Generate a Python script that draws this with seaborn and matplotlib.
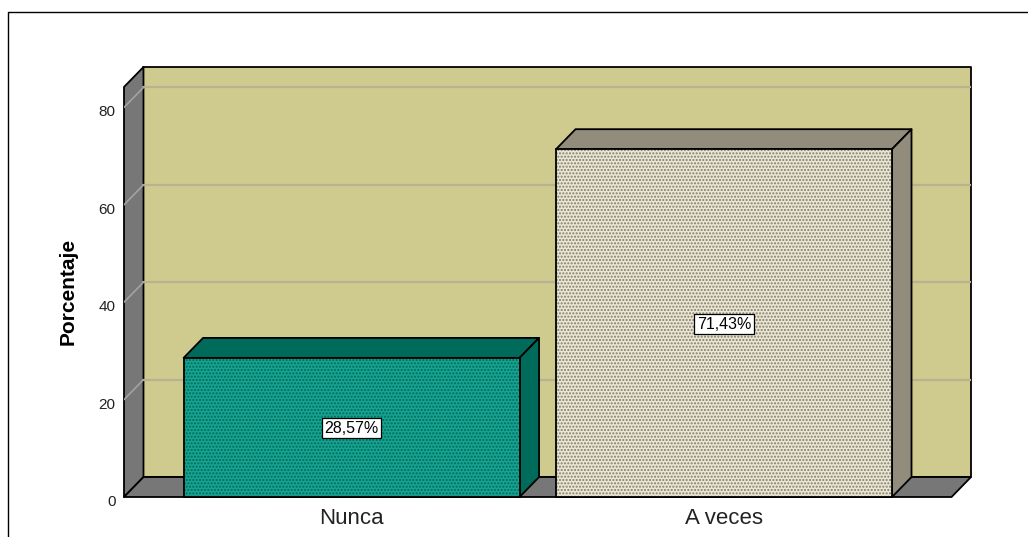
import matplotlib
matplotlib.use("Agg")
import matplotlib.pyplot as plt
from matplotlib.patches import Polygon, Rectangle
from matplotlib.lines import Line2D
from matplotlib.transforms import ScaledTranslation
import pandas as pd
import seaborn as sns

categorias = ["Nunca", "A veces"]
porcentajes = [28.57, 71.43]
etiquetas = ["28,57%", "71,43%"]
ticks_y = [0, 20, 40, 60, 80]

colores_frente = ["#00BAA2", "#EFE8CF"]
colores_punto = ["#006A58", "#7F7B6C"]
colores_lado = ["#006B5A", "#918C7C"]

PARED = "#CFCA8E"
GRIS = "#777777"
GRID = "#B7B391"
GRID_GRIS = "#A3A3A3"

# profundidad del efecto 3D, en unidades de datos
DX = 0.0523
DY = 4.1
Y_MAX = 84.2

sns.set_style("white")
plt.rcParams["font.family"] = ["Liberation Sans", "DejaVu Sans"]

fig = plt.figure(figsize=(10.28, 5.37), dpi=100)
ax = fig.add_axes([124 / 1028, 1 - 497 / 537, (971 - 124) / 1028, (497 - 67) / 537])

df = pd.DataFrame({"categoria": categorias, "porcentaje": porcentajes})
sns.barplot(data=df, x="categoria", y="porcentaje", hue="categoria",
            palette=colores_frente, width=0.902, legend=False, ax=ax, zorder=5)

x_izq, x_der = -0.611, 1.663
ax.set_xlim(x_izq, x_der)
ax.set_ylim(0, Y_MAX + DY)
for s in ax.spines.values():
    s.set_visible(False)
ax.set_facecolor("none")

# paredes del grafico
x_frente = x_der - DX
borde = dict(edgecolor="black", linewidth=1.3, joinstyle="round", clip_on=False)
ax.add_patch(Rectangle((x_izq + DX, DY), x_frente - x_izq, Y_MAX, facecolor=PARED, zorder=1, **borde))
ax.add_patch(Polygon([(x_izq, 0), (x_izq + DX, DY), (x_izq + DX, Y_MAX + DY), (x_izq, Y_MAX)],
                     facecolor=GRIS, zorder=1.5, **borde))
ax.add_patch(Polygon([(x_izq, 0), (x_frente, 0), (x_der, DY), (x_izq + DX, DY)],
                     facecolor=GRIS, zorder=1.5, **borde))

# lineas de cuadricula
for v in ticks_y[1:]:
    ax.plot([x_izq + DX, x_der], [v + DY, v + DY], color=GRID, lw=1.6, zorder=2)
    ax.plot([x_izq, x_izq + DX], [v, v + DY], color=GRID_GRIS, lw=1.2, zorder=2)

# barras con punteado y su extrusion
for i, bar in enumerate(ax.patches[:len(categorias)]):
    x0, w, h = bar.get_x(), bar.get_width(), bar.get_height()
    bar.set_edgecolor(colores_punto[i])
    bar.set_hatch(".....")
    bar.set_linewidth(0)
    ax.add_patch(Rectangle((x0, 0), w, h, facecolor="none", edgecolor="black", linewidth=1.3, zorder=6, clip_on=False))
    ax.add_patch(Polygon([(x0, h), (x0 + DX, h + DY), (x0 + w + DX, h + DY), (x0 + w, h)],
                         facecolor=colores_lado[i], zorder=4, **borde))
    ax.add_patch(Polygon([(x0 + w, 0), (x0 + w + DX, DY), (x0 + w + DX, h + DY), (x0 + w, h)],
                         facecolor=colores_lado[i], zorder=4, **borde))
    ax.text(i, h / 2 - 0.2, etiquetas[i], ha="center", va="center", fontsize=11.5, color="black", zorder=8,
            bbox=dict(boxstyle="square,pad=0.16", facecolor="white", edgecolor="black", linewidth=0.9))

ax.set_yticks(ticks_y)
ax.set_xlabel("")
ax.set_ylabel("Porcentaje", fontsize=15, fontweight="bold", color="black", labelpad=15, y=0.477)
ax.tick_params(axis="x", length=0, labelsize=16, pad=8, labelcolor="#222222")
ax.tick_params(axis="y", length=0, labelsize=11, pad=6, labelcolor="#222222")
baja = ScaledTranslation(0, -2.5 / 72, fig.dpi_scale_trans)
for t in ax.get_yticklabels():
    t.set_transform(t.get_transform() + baja)

# marco negro que sale de la imagen por la derecha y por abajo
fig.add_artist(Line2D([8 / 1028, 8 / 1028, 1], [0, 1 - 11.5 / 537, 1 - 11.5 / 537], color="black", lw=1.0))

fig.savefig("out.png", dpi=100)
